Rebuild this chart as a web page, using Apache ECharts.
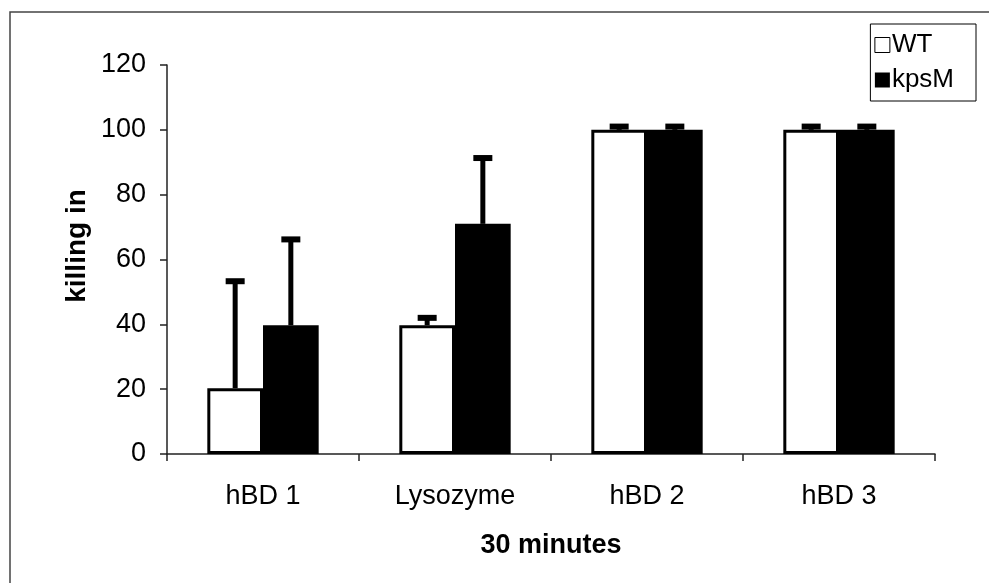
<!DOCTYPE html>
<html>
<head>
<meta charset="utf-8">
<script src="https://cdn.jsdelivr.net/npm/echarts@6/dist/echarts.min.js"></script>
<style>html,body{margin:0;padding:0;background:#fff}#c{width:989px;height:583px}</style>
</head>
<body>
<div id="c"></div>
<script>
var categories = ['hBD 1', 'Lysozyme', 'hBD 2', 'hBD 3'];
var wtValues = [20.3, 39.7, 100, 100];
var wtErrors = [33, 2.3, 1, 1];
var kpsValues = [39.7, 71, 100, 100];
var kpsErrors = [26.5, 20.3, 1, 1];
var yTicks = [0, 20, 40, 60, 80, 100, 120];

var FONT = '"Liberation Sans", Arial, sans-serif';
var BAR_FRAC = 0.29;

function errorSeries(name, values, errors, side) {
  return {
    type: 'custom',
    name: name + ' err',
    z: 5,
    silent: true,
    data: values.map(function (v, i) { return [i, v, v + errors[i]]; }),
    renderItem: function (params, api) {
      var band = api.size([1, 0])[0];
      var off = side * band * BAR_FRAC / 2;
      var base = api.coord([api.value(0), api.value(1)]);
      var top = api.coord([api.value(0), api.value(2)]);
      var x = base[0] + off;
      var capW = 19;
      return {
        type: 'group',
        children: [
          { type: 'line', shape: { x1: x, y1: base[1], x2: x, y2: top[1] }, style: { stroke: '#000', lineWidth: 5 } },
          { type: 'line', shape: { x1: x - capW / 2, y1: top[1], x2: x + capW / 2, y2: top[1] }, style: { stroke: '#000', lineWidth: 6 } }
        ]
      };
    }
  };
}

var chart = echarts.init(document.getElementById('c'));
chart.setOption({
  animation: false,
  backgroundColor: '#fff',
  graphic: [
    {
      type: 'rect', z: -1,
      shape: { x: 10, y: 12, width: 2000, height: 2000 },
      style: { fill: 'none', stroke: '#444', lineWidth: 1.5 }
    },
    {
      type: 'text', x: 77, y: 246, rotation: Math.PI / 2,
      style: {
        text: 'killing in', fontFamily: FONT, fontSize: 28, fontWeight: 'bold',
        fill: '#000', align: 'center', verticalAlign: 'middle'
      }
    }
  ],
  grid: { left: 167, right: 54, top: 65, bottom: 129 },
  legend: {
    right: 13, top: 24,
    orient: 'vertical',
    borderColor: '#000', borderWidth: 1,
    padding: [8, 22, 8, 4],
    itemGap: 9,
    itemWidth: 15, itemHeight: 15,
    icon: 'rect',
    textStyle: { fontFamily: FONT, fontSize: 26, color: '#000', padding: [0, 0, 0, -3] },
    data: [
      { name: 'WT', itemStyle: { color: '#fff', borderColor: '#000', borderWidth: 1 } },
      { name: 'kpsM', itemStyle: { color: '#000' } }
    ]
  },
  xAxis: {
    type: 'category',
    data: categories,
    name: '30 minutes',
    nameLocation: 'middle',
    nameGap: 78,
    nameMoveOverlap: false,
    nameTextStyle: { fontFamily: FONT, fontSize: 27, fontWeight: 'bold', color: '#000' },
    axisLine: { lineStyle: { color: '#222', width: 1.5 } },
    axisTick: { show: true, length: 7, inside: false, lineStyle: { color: '#222', width: 1.5 } },
    axisLabel: { fontFamily: FONT, fontSize: 27, color: '#000', margin: 29 },
    splitLine: { show: false }
  },
  yAxis: {
    type: 'value',
    min: 0, max: 120, interval: 20,
    axisLine: { show: true, lineStyle: { color: '#222', width: 1.5 } },
    axisTick: { show: true, length: 7, lineStyle: { color: '#222', width: 1.5 } },
    axisLabel: {
      fontFamily: FONT, fontSize: 27, color: '#000', margin: 21,
      formatter: function (v) { return yTicks.indexOf(v) >= 0 ? String(v) : ''; }
    },
    splitLine: { show: false }
  },
  series: [
    {
      name: 'WT', type: 'bar', data: wtValues,
      barWidth: (BAR_FRAC * 100) + '%', barGap: '0%',
      itemStyle: { color: '#fff', borderColor: '#000', borderWidth: 3 }
    },
    {
      name: 'kpsM', type: 'bar', data: kpsValues,
      barWidth: (BAR_FRAC * 100) + '%', barGap: '0%',
      itemStyle: { color: '#000' }
    },
    errorSeries('WT', wtValues, wtErrors, -1),
    errorSeries('kpsM', kpsValues, kpsErrors, 1)
  ]
});
</script>
</body>
</html>
